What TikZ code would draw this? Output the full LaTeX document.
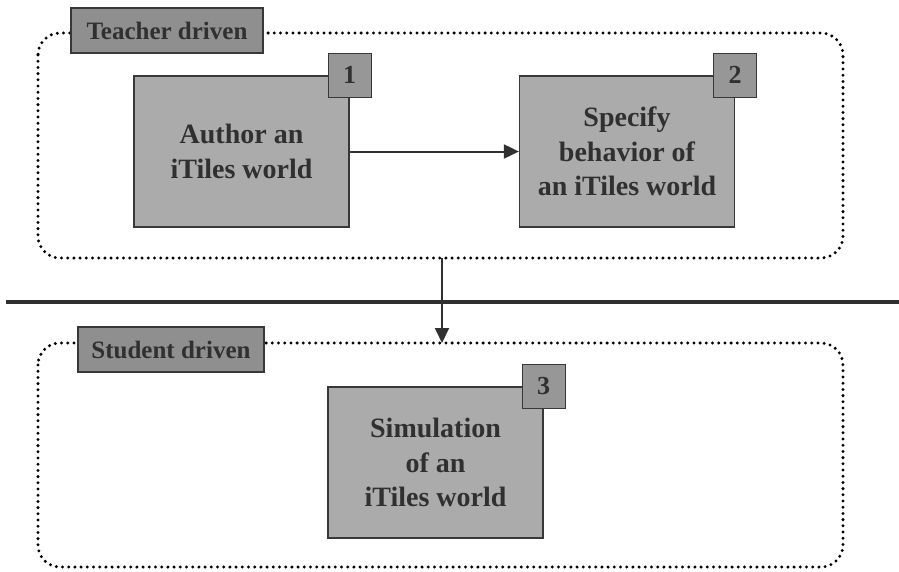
\documentclass[tikz,border=0pt]{standalone}
\usepackage{fontspec}
\setmainfont{Liberation Serif}
\usetikzlibrary{arrows.meta}
\definecolor{inkgray}{HTML}{303030}
\definecolor{edgegray}{HTML}{383838}
\definecolor{boxfill}{HTML}{ABABAB}
\definecolor{tagfill}{HTML}{8F8F8F}
\definecolor{numfill}{HTML}{979797}
\tikzset{
  region/.style={draw=black, line width=3.3pt, line cap=round,
    dash pattern=on 0pt off 6.2pt, rounded corners=22pt},
  stepbox/.style={draw=edgegray, line width=1.3pt, fill=boxfill, inner sep=0pt,
    minimum width=215pt, minimum height=151pt, align=center, text=inkgray,
    font=\fontsize{28}{34.5}\selectfont\bfseries},
  numbox/.style={draw=edgegray, line width=1.3pt, fill=numfill, inner sep=0pt,
    minimum width=43pt, minimum height=44pt, text=inkgray,
    font=\fontsize{26}{28}\selectfont\bfseries},
  tagbox/.style={draw=edgegray, line width=1.3pt, fill=tagfill, inner sep=0pt,
    minimum height=45pt, text=inkgray,
    font=\fontsize{25}{26}\selectfont\bfseries},
  flow/.style={draw=inkgray, line width=2pt, -{Triangle[length=15pt,width=14pt]}}
}
\begin{document}
\begin{tikzpicture}[x=1pt,y=-1pt]
  \useasboundingbox (0,0) rectangle (899,571);

  % dotted regions for the two phases
  \draw[region] (38,33) rectangle (843,258);
  \draw[region] (38,343) rectangle (843,567);
  \coordinate (teacherS) at (442,258);
  \coordinate (studentN) at (442,343);

  % divider between the phases
  \coordinate (divL) at (6,302);
  \coordinate (divR) at (899,302);
  \draw[inkgray, line width=3.2pt] (divL) -- (divR);

  % phase labels
  \node[tagbox, minimum width=192pt] (teacher) at (167,30.5) {Teacher driven};
  \node[tagbox, minimum width=186pt] (student) at (171,349.5) {Student driven};

  % steps
  \node[stepbox] (author) at (241.5,151.5) {Author an\\iTiles world};
  \node[stepbox] (specify) at (627,151.5) {Specify\\behavior of\\an iTiles world};
  \node[stepbox] (simulate) at (435.5,462.5) {Simulation\\of an\\iTiles world};

  % step numbers
  \node[numbox] (n1) at (author.north east) {1};
  \node[numbox] (n2) at (specify.north east) {2};
  \node[numbox] (n3) at (simulate.north east) {3};

  % connectors
  \draw[flow] (author.east) -- (specify.west);
  \draw[flow] (teacherS) -- (studentN);
\end{tikzpicture}
\end{document}
